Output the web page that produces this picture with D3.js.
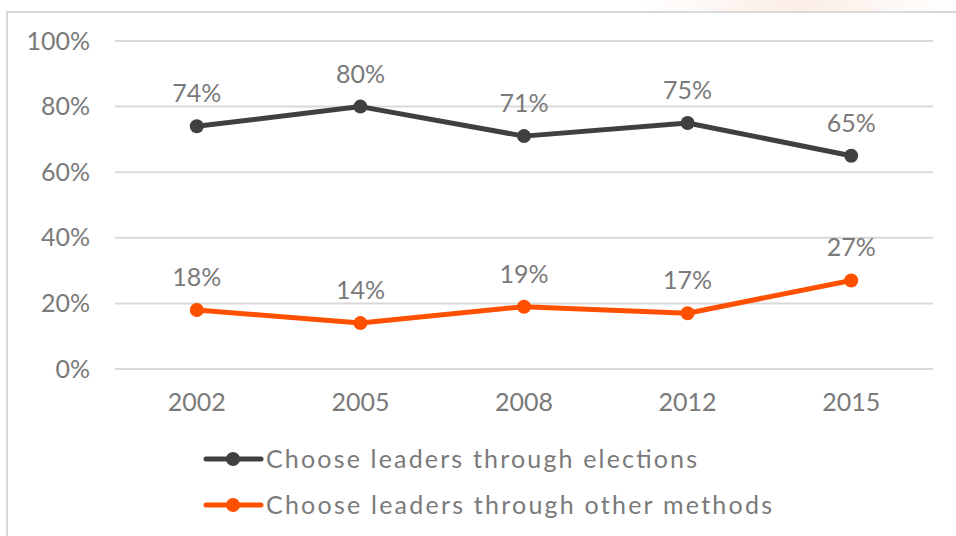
<!DOCTYPE html>
<html><head><meta charset="utf-8">
<script src="https://cdn.jsdelivr.net/npm/d3@7"></script>
<style>body{margin:0;background:#fff}svg{display:block}</style>
</head><body>
<svg id="c" width="956" height="536"></svg>
<script>
const years = ["2002","2005","2008","2012","2015"];
const elections = [74,80,71,75,65];
const otherMethods = [18,14,19,17,27];
const yTicks = [0,20,40,60,80,100];
const seriesNames = ["Choose leaders through elections","Choose leaders through other methods"];
const seriesColors = ["#404040","#FF5000"];

const svg = d3.select("#c");
const font = "Lato, 'DejaVu Sans', sans-serif";
const textColor = "#7a7a7a";
const fs = 25;

// faint backdrop at top-right
const grad = svg.append("defs").append("linearGradient").attr("id","bg").attr("x1","0").attr("x2","1");
grad.append("stop").attr("offset","0").attr("stop-color","#fff");
grad.append("stop").attr("offset","0.5").attr("stop-color","#fbeee6");
grad.append("stop").attr("offset","1").attr("stop-color","#fff");
svg.append("rect").attr("x",640).attr("y",0).attr("width",316).attr("height",12).attr("fill","url(#bg)");

// border
svg.append("rect").attr("x",7).attr("y",12).attr("width",960).attr("height",540)
  .attr("fill","#fff").attr("stroke","#d9d9d9").attr("stroke-width",2);

const x = d3.scaleBand().domain(years).range([115,933]);
const y = d3.scaleLinear().domain([0,100]).range([369,41]);

// gridlines
svg.append("g").selectAll("line").data(yTicks).join("line")
  .attr("x1",115).attr("x2",933).attr("y1",d=>y(d)).attr("y2",d=>y(d))
  .attr("stroke","#d9d9d9").attr("stroke-width",2);

// y axis
const yAxis = svg.append("g").attr("transform","translate(100,0)")
  .call(d3.axisLeft(y).tickValues(yTicks).tickFormat(d=>d+"%").tickSize(0).tickPadding(10));
yAxis.select(".domain").remove();
yAxis.selectAll("text").attr("font-family",font).attr("font-size",fs).attr("fill",textColor);

// x axis
const xAxis = svg.append("g").attr("transform","translate(0,393)")
  .call(d3.axisBottom(x).tickSize(0).tickPadding(0));
xAxis.select(".domain").remove();
xAxis.selectAll("text").attr("font-family",font).attr("font-size",fs).attr("fill",textColor).attr("dy","0.71em");

const cx = d => x(d) + x.bandwidth()/2;
const series = [elections, otherMethods];
const line = d3.line().x((d,i)=>cx(years[i])).y(d=>y(d));

series.forEach((vals,si)=>{
  const g = svg.append("g");
  g.append("path").datum(vals).attr("d",line).attr("fill","none")
    .attr("stroke",seriesColors[si]).attr("stroke-width",5).attr("stroke-linejoin","round");
  g.selectAll("circle").data(vals).join("circle")
    .attr("cx",(d,i)=>cx(years[i])).attr("cy",d=>y(d)).attr("r",7).attr("fill",seriesColors[si]);
  g.selectAll("text").data(vals).join("text")
    .attr("x",(d,i)=>cx(years[i])).attr("y",d=>y(d)-24)
    .attr("text-anchor","middle").attr("font-family",font).attr("font-size",fs).attr("fill",textColor)
    .text(d=>d+"%");
});

// legend
const legendWidths = [431,506];
const leg = svg.append("g");
seriesNames.forEach((name,i)=>{
  const ly = 459 + i*46;
  leg.append("line").attr("x1",206).attr("x2",261).attr("y1",ly).attr("y2",ly)
    .attr("stroke",seriesColors[i]).attr("stroke-width",5).attr("stroke-linecap","round");
  leg.append("circle").attr("cx",233).attr("cy",ly).attr("r",7).attr("fill",seriesColors[i]);
  leg.append("text").attr("x",266).attr("y",ly).attr("dy","0.36em")
    .attr("font-family",font).attr("font-size",fs).attr("fill",textColor)
    .attr("textLength",legendWidths[i]).attr("lengthAdjust","spacing").text(name);
});
</script>
</body></html>
